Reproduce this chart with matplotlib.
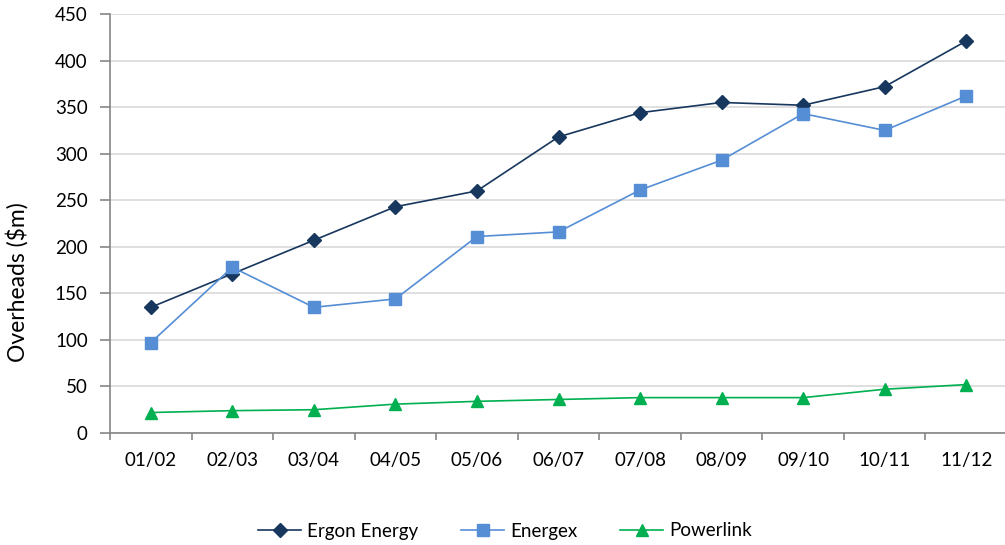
import matplotlib.pyplot as plt
import numpy as np

plt.rcParams['font.family'] = ['Lato', 'DejaVu Sans']

years = ['01/02', '02/03', '03/04', '04/05', '05/06', '06/07',
         '07/08', '08/09', '09/10', '10/11', '11/12']
ergon = [135, 171, 207, 243, 260, 318, 344, 355, 352, 372, 421]
energex = [97, 178, 135, 144, 211, 216, 261, 293, 343, 325, 362]
powerlink = [22, 24, 25, 31, 34, 36, 38, 38, 38, 47, 52]

fig = plt.figure(figsize=(10.05, 5.45), dpi=100)
ax = fig.add_axes([110 / 1005, 112 / 545, 897 / 1005, 419 / 545])

x = np.arange(len(years))
ax.plot(x, ergon, color='#17375E', lw=1.2, marker='D', ms=7, label='Ergon Energy')
ax.plot(x, energex, color='#558ED5', lw=1.2, marker='s', ms=9, label='Energex')
ax.plot(x, powerlink, color='#00B050', lw=1.2, marker='^', ms=9, label='Powerlink')

ax.set_xlim(-0.5, len(years) - 0.5)
ax.set_ylim(0, 450)
ax.set_yticks(np.arange(0, 451, 50))
ax.set_xticks(x)
ax.set_xticklabels(years)
ax.set_xticks(np.arange(-0.5, len(years), 1), minor=True)
ax.tick_params(axis='x', which='major', length=0, pad=14, labelsize=13.5)
ax.tick_params(axis='x', which='minor', length=5, color='#868686', width=1.2)
ax.tick_params(axis='y', length=7, color='#868686', width=1.2, labelsize=13.5, pad=9)
ax.grid(axis='y', color='#D9D9D9', lw=1.2)
ax.set_axisbelow(True)

for side in ['top', 'right']:
    ax.spines[side].set_visible(False)
for side in ['left', 'bottom']:
    ax.spines[side].set_color('#868686')
    ax.spines[side].set_linewidth(1.2)

ax.set_ylabel('Overheads ($m)', fontsize=16.5)
ax.yaxis.set_label_coords(-0.091, 0.36)

fig.legend(loc='center', bbox_to_anchor=(505 / 1005, 1 - 531 / 545), ncol=3,
           frameon=False, fontsize=13.5, columnspacing=2.3, handlelength=2.3,
           handletextpad=0.3)

fig.savefig('out.png', dpi=100)
